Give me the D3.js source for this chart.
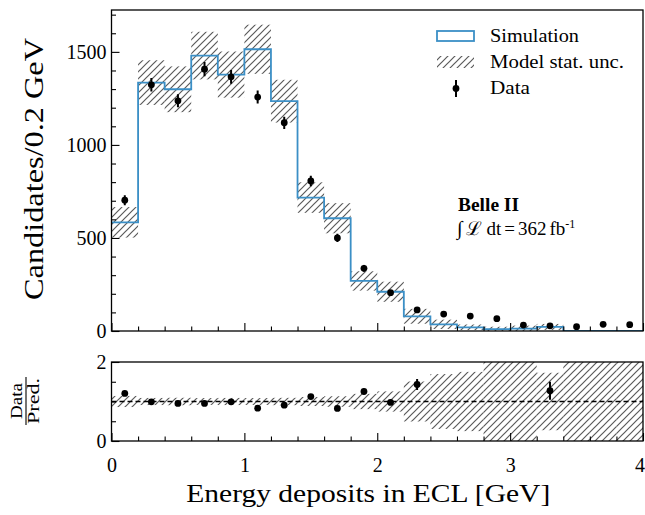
<!DOCTYPE html>
<html>
<head>
<meta charset="utf-8">
<script src="https://cdn.jsdelivr.net/npm/d3@7"></script>
<style>
  html, body { margin: 0; padding: 0; background: #fff; }
  svg { display: block; }
  text { font-family: "Liberation Serif", "DejaVu Serif", serif; fill: #000; }
</style>
</head>
<body>
<svg id="chart" width="645" height="515"></svg>
<script>
// Bin edges of the energy-deposit histogram (GeV)
const binEdges = [0.0, 0.2, 0.4, 0.6, 0.8, 1.0, 1.2, 1.4, 1.6, 1.8, 2.0,
                  2.2, 2.4, 2.6, 2.8, 3.0, 3.2, 3.4, 3.6, 3.8, 4.0];
// Simulated candidates per bin and its statistical uncertainty
const simulation = [584, 1335, 1299, 1480, 1378, 1514, 1235, 717, 606, 269,
                    211, 79, 36, 20, 10, 13, 22, 1, 1, 1];
const simUnc = [82, 120, 123, 128, 124, 132, 115, 82, 81, 52,
                54, 40, 25, 15, 13, 16, 16, 1.5, 1.5, 1.5];
// Observed candidates per bin and their uncertainty
const dataCounts = [703, 1323, 1237, 1407, 1366, 1257, 1119, 806, 500, 337,
                    206, 113, 91, 80, 66, 32, 28, 23, 36, 34];
const dataErr = [27, 36, 35, 38, 37, 35, 33, 28, 22, 18,
                 14, 11, 10, 9, 8, 6, 5, 5, 6, 6];
// Axis ticks
const xMajorTicks = [0, 1, 2, 3, 4];
const xMinorTicks = [0.2, 0.4, 0.6, 0.8, 1.2, 1.4, 1.6, 1.8, 2.2, 2.4, 2.6, 2.8, 3.2, 3.4, 3.6, 3.8];
const yMajorTicks = [0, 500, 1000, 1500];
const yMinorTicks = [100, 200, 300, 400, 600, 700, 800, 900, 1100, 1200, 1300, 1400, 1600, 1700];
const rMajorTicks = [0, 2];
const rMinorTicks = [0.5, 1.0, 1.5];

const bins = simulation.map((s, i) => ({
  lo: binEdges[i], hi: binEdges[i + 1], mid: (binEdges[i] + binEdges[i + 1]) / 2,
  sim: s, unc: simUnc[i], data: dataCounts[i], err: dataErr[i]
}));

const svg = d3.select("#chart");
const left = 111.5, right = 643;
const mainTop = 10, mainBottom = 331;
const ratTop = 362, ratBottom = 441;

const x = d3.scaleLinear().domain([0, 4]).range([left, right]);
const y = d3.scaleLinear().domain([0, 1725]).range([mainBottom, mainTop]);
const yr = d3.scaleLinear().domain([0, 2]).range([ratBottom, ratTop]);

// Hatch pattern for the model uncertainty
const defs = svg.append("defs");
const pat = defs.append("pattern").attr("id", "hatch")
  .attr("patternUnits", "userSpaceOnUse").attr("width", 7).attr("height", 7);
pat.append("path").attr("d", "M-1,1 l2,-2 M0,7 l7,-7 M6,8 l2,-2")
  .attr("stroke", "#5a5a5a").attr("stroke-width", 1.2);

defs.append("clipPath").attr("id", "clipMain").append("rect")
  .attr("x", left).attr("y", mainTop).attr("width", right - left).attr("height", mainBottom - mainTop);
defs.append("clipPath").attr("id", "clipRat").append("rect")
  .attr("x", left).attr("y", ratTop).attr("width", right - left).attr("height", ratBottom - ratTop);

// ---------- main panel ----------
const gMain = svg.append("g").attr("clip-path", "url(#clipMain)");

gMain.selectAll("rect.unc").data(bins).join("rect").attr("class", "unc")
  .attr("x", d => x(d.lo)).attr("width", d => x(d.hi) - x(d.lo))
  .attr("y", d => y(d.sim + d.unc))
  .attr("height", d => y(Math.max(0, d.sim - d.unc)) - y(d.sim + d.unc))
  .attr("fill", "url(#hatch)");

const stepLine = d3.line().x(d => x(d[0])).y(d => y(d[1]));
const stepPts = [];
bins.forEach(b => { stepPts.push([b.lo, b.sim]); stepPts.push([b.hi, b.sim]); });
stepPts.push([4, 0]);
gMain.append("path").datum(stepPts).attr("d", stepLine)
  .attr("fill", "none").attr("stroke", "#3b8fc6").attr("stroke-width", 1.8);

gMain.selectAll("line.err").data(bins).join("line").attr("class", "err")
  .attr("x1", d => x(d.mid)).attr("x2", d => x(d.mid))
  .attr("y1", d => y(d.data - d.err)).attr("y2", d => y(d.data + d.err))
  .attr("stroke", "#000").attr("stroke-width", 2);
gMain.selectAll("circle.pt").data(bins).join("circle").attr("class", "pt")
  .attr("cx", d => x(d.mid)).attr("cy", d => y(d.data)).attr("r", 3.4).attr("fill", "#000");

// ---------- ratio panel ----------
const gRat = svg.append("g").attr("clip-path", "url(#clipRat)");
gRat.selectAll("rect.runc").data(bins).join("rect").attr("class", "runc")
  .attr("x", d => x(d.lo)).attr("width", d => x(d.hi) - x(d.lo))
  .attr("y", d => yr(1 + d.unc / d.sim))
  .attr("height", d => yr(1 - d.unc / d.sim) - yr(1 + d.unc / d.sim))
  .attr("fill", "url(#hatch)");

gRat.append("line").attr("x1", left).attr("x2", right)
  .attr("y1", yr(1)).attr("y2", yr(1))
  .attr("stroke", "#000").attr("stroke-width", 1.3).attr("stroke-dasharray", "5,3");

const ratioPts = bins.map(b => ({ mid: b.mid, r: b.data / b.sim, e: b.err / b.sim }))
  .filter(p => p.r <= 2);
gRat.selectAll("line.rerr").data(ratioPts).join("line").attr("class", "rerr")
  .attr("x1", d => x(d.mid)).attr("x2", d => x(d.mid))
  .attr("y1", d => yr(d.r - d.e)).attr("y2", d => yr(d.r + d.e))
  .attr("stroke", "#000").attr("stroke-width", 2);
gRat.selectAll("circle.rpt").data(ratioPts).join("circle").attr("class", "rpt")
  .attr("cx", d => x(d.mid)).attr("cy", d => yr(d.r)).attr("r", 3.4).attr("fill", "#000");

// ---------- axes ----------
function styleAxis(g) {
  g.select(".domain").remove();
  g.selectAll(".tick line").attr("stroke", "#000").attr("stroke-width", 1.1);
  g.selectAll(".tick text").style("font-size", "20px");
}
// main x (no labels)
svg.append("g").attr("transform", `translate(0,${mainBottom})`)
  .call(d3.axisBottom(x).tickValues(xMajorTicks).tickSize(-8).tickFormat("")).call(styleAxis);
svg.append("g").attr("transform", `translate(0,${mainBottom})`)
  .call(d3.axisBottom(x).tickValues(xMinorTicks).tickSize(-4.5).tickFormat("")).call(styleAxis);
// main y
svg.append("g").attr("transform", `translate(${left},0)`)
  .call(d3.axisLeft(y).tickValues(yMajorTicks).tickSize(-8).tickPadding(5).tickFormat(d3.format("d"))).call(styleAxis);
svg.append("g").attr("transform", `translate(${left},0)`)
  .call(d3.axisLeft(y).tickValues(yMinorTicks).tickSize(-4.5).tickFormat("")).call(styleAxis);
// ratio x
const ratX = svg.append("g").attr("transform", `translate(0,${ratBottom})`)
  .call(d3.axisBottom(x).tickValues(xMajorTicks).tickSize(-8).tickPadding(17).tickFormat(d3.format("d"))).call(styleAxis);
// keep the last label inside the page edge
ratX.selectAll(".tick text").filter(d => d === 4).attr("dx", -3.5);
svg.append("g").attr("transform", `translate(0,${ratBottom})`)
  .call(d3.axisBottom(x).tickValues(xMinorTicks).tickSize(-4.5).tickFormat("")).call(styleAxis);
// ratio y
svg.append("g").attr("transform", `translate(${left},0)`)
  .call(d3.axisLeft(yr).tickValues(rMajorTicks).tickSize(-8).tickPadding(5).tickFormat(d3.format("d"))).call(styleAxis);
svg.append("g").attr("transform", `translate(${left},0)`)
  .call(d3.axisLeft(yr).tickValues(rMinorTicks).tickSize(-4.5).tickFormat("")).call(styleAxis);

// frames
[[mainTop, mainBottom], [ratTop, ratBottom]].forEach(([t, b]) => {
  svg.append("rect").attr("x", left).attr("y", t).attr("width", right - left).attr("height", b - t)
    .attr("fill", "none").attr("stroke", "#000").attr("stroke-width", 1.3);
});

// ---------- labels ----------
svg.append("text").attr("x", (left + right) / 2 - 9).attr("y", 502)
  .attr("text-anchor", "middle").style("font-size", "26px")
  .attr("textLength", 364).attr("lengthAdjust", "spacingAndGlyphs")
  .text("Energy deposits in ECL [GeV]");

svg.append("text").attr("transform", "translate(43,169) rotate(-90)")
  .attr("text-anchor", "middle").style("font-size", "27px")
  .attr("textLength", 262).attr("lengthAdjust", "spacingAndGlyphs")
  .text("Candidates/0.2 GeV");

const frac = svg.append("g").attr("transform", "translate(26,401) rotate(-90)");
frac.append("text").attr("x", 0).attr("y", -4).attr("text-anchor", "middle")
  .style("font-size", "17px").attr("textLength", 36).attr("lengthAdjust", "spacingAndGlyphs")
  .text("Data");
frac.append("line").attr("x1", -24).attr("x2", 24).attr("y1", 0).attr("y2", 0)
  .attr("stroke", "#000").attr("stroke-width", 1.1);
frac.append("text").attr("x", 0).attr("y", 13).attr("text-anchor", "middle")
  .style("font-size", "17px").attr("textLength", 46).attr("lengthAdjust", "spacingAndGlyphs")
  .text("Pred.");

// Belle II label
svg.append("text").attr("x", 458).attr("y", 211).style("font-size", "18px")
  .style("font-weight", "bold").attr("textLength", 61).attr("lengthAdjust", "spacingAndGlyphs")
  .text("Belle II");
const lumi = svg.append("text").attr("x", 457).attr("y", 235).style("font-size", "19px");
lumi.append("tspan").style("font-size", "20px").text("\u222B");
lumi.append("tspan").attr("dx", 4).text("\u2112");
lumi.append("tspan").attr("dx", 4).text("dt");
lumi.append("tspan").attr("dx", 3).text("=");
lumi.append("tspan").attr("dx", 3).text("362");
lumi.append("tspan").attr("dx", 3).text("fb");
lumi.append("tspan").attr("dy", -7).style("font-size", "12px").text("-1");

// ---------- legend ----------
const lg = svg.append("g");
lg.append("rect").attr("x", 437).attr("y", 31).attr("width", 37).attr("height", 10)
  .attr("fill", "none").attr("stroke", "#3b8fc6").attr("stroke-width", 1.8);
lg.append("text").attr("x", 490).attr("y", 42).style("font-size", "18px")
  .attr("textLength", 89).attr("lengthAdjust", "spacingAndGlyphs").text("Simulation");
lg.append("rect").attr("x", 437).attr("y", 56).attr("width", 37).attr("height", 12)
  .attr("fill", "url(#hatch)");
lg.append("text").attr("x", 490).attr("y", 68).style("font-size", "18px")
  .attr("textLength", 134).attr("lengthAdjust", "spacingAndGlyphs").text("Model stat. unc.");
lg.append("line").attr("x1", 456).attr("x2", 456).attr("y1", 80).attr("y2", 97)
  .attr("stroke", "#000").attr("stroke-width", 2);
lg.append("circle").attr("cx", 456).attr("cy", 88.5).attr("r", 3.4).attr("fill", "#000");
lg.append("text").attr("x", 490).attr("y", 94).style("font-size", "18px")
  .attr("textLength", 40).attr("lengthAdjust", "spacingAndGlyphs").text("Data");
</script>
</body>
</html>
